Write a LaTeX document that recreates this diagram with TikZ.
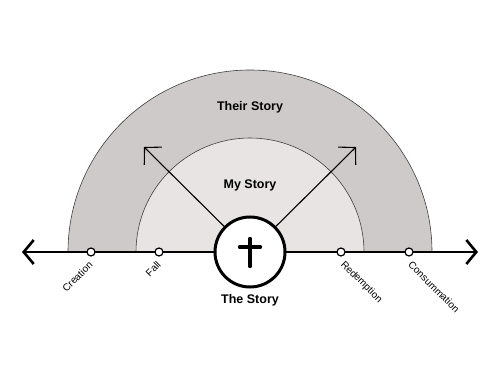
\documentclass[tikz,border=0pt]{standalone}
\usepackage{fontspec}
\setmainfont{Liberation Sans}
\usetikzlibrary{arrows.meta}
\definecolor{outergray}{RGB}{205,202,201}
\definecolor{innergray}{RGB}{231,228,227}

\begin{document}
\begin{tikzpicture}[x=1pt, y=1pt]
  \tikzset{
    story_dot/.style={circle, fill=white, draw, line width=1.2pt, inner sep=0pt, minimum size=8pt},
    cross_node/.style={circle, fill=white, draw, line width=3pt, inner sep=0pt, minimum size=70pt},
    band_edge/.style={draw=black!75, line width=0.6pt},
    axis_line/.style={line width=2.6pt, {Straight Barb[length=10pt, width=24pt]}-{Straight Barb[length=10pt, width=24pt]}},
    ray_arrow/.style={line width=1.1pt, -{Straight Barb[length=12pt, width=25pt]}},
    title_label/.style={font=\fontsize{12.5}{14}\selectfont\bfseries},
    left_label/.style={font=\fontsize{10}{12}\selectfont, rotate=45, anchor=east, inner sep=1.5pt},
    right_label/.style={font=\fontsize{10}{12}\selectfont, rotate=-45, anchor=west, inner sep=1.5pt}
  }

  % Marco de la figura
  \useasboundingbox (0,0) rectangle (500,386);

  % Centro y semicirculos
  \coordinate (center) at (250,134);
  \filldraw[fill=outergray, band_edge] ([xshift=-182pt]center) arc[start angle=180, end angle=0, radius=182] -- cycle;
  \filldraw[fill=innergray, band_edge] ([xshift=-114pt]center) arc[start angle=180, end angle=0, radius=114] -- cycle;

  % Eje de la historia
  \coordinate (axis_left) at (22,134);
  \coordinate (axis_right) at (478,134);
  \draw[axis_line] (axis_left) -- (axis_right);

  % Circulo con la cruz
  \node[cross_node] (cruz) at (center) {};
  \draw[line width=3.3pt, line cap=round] ([yshift=13.5pt]cruz.center) -- ([yshift=-14.5pt]cruz.center);
  \draw[line width=3.3pt, line cap=round] ([shift={(-10.5pt,5pt)}]cruz.center) -- ([shift={(10.5pt,5pt)}]cruz.center);

  % Flechas diagonales
  \coordinate (tip_left) at (144,239);
  \coordinate (tip_right) at (356,239);
  \draw[ray_arrow] (cruz) -- (tip_left);
  \draw[ray_arrow] (cruz) -- (tip_right);

  % Puntos sobre el eje
  \node[story_dot] (c_creation) at (91,134) {};
  \node[story_dot] (c_fall) at (159,134) {};
  \node[story_dot] (c_redemption) at (341,134) {};
  \node[story_dot] (c_consummation) at (409,134) {};

  % Etiquetas de los puntos
  \node[left_label] (l_creation) at ([shift={(1pt,-10pt)}]c_creation.center) {Creation};
  \node[left_label] (l_fall) at ([shift={(1pt,-10pt)}]c_fall.center) {Fall};
  \node[right_label] (l_redemption) at ([shift={(0pt,-10pt)}]c_redemption.center) {Redemption};
  \node[right_label] (l_consummation) at ([shift={(0pt,-10pt)}]c_consummation.center) {Consummation};

  % Titulos
  \node[title_label] (their_story) at (250,279) {Their Story};
  \node[title_label] (my_story) at (250,201) {My Story};
  \node[title_label] (the_story) at (250,86) {The Story};
\end{tikzpicture}
\end{document}
